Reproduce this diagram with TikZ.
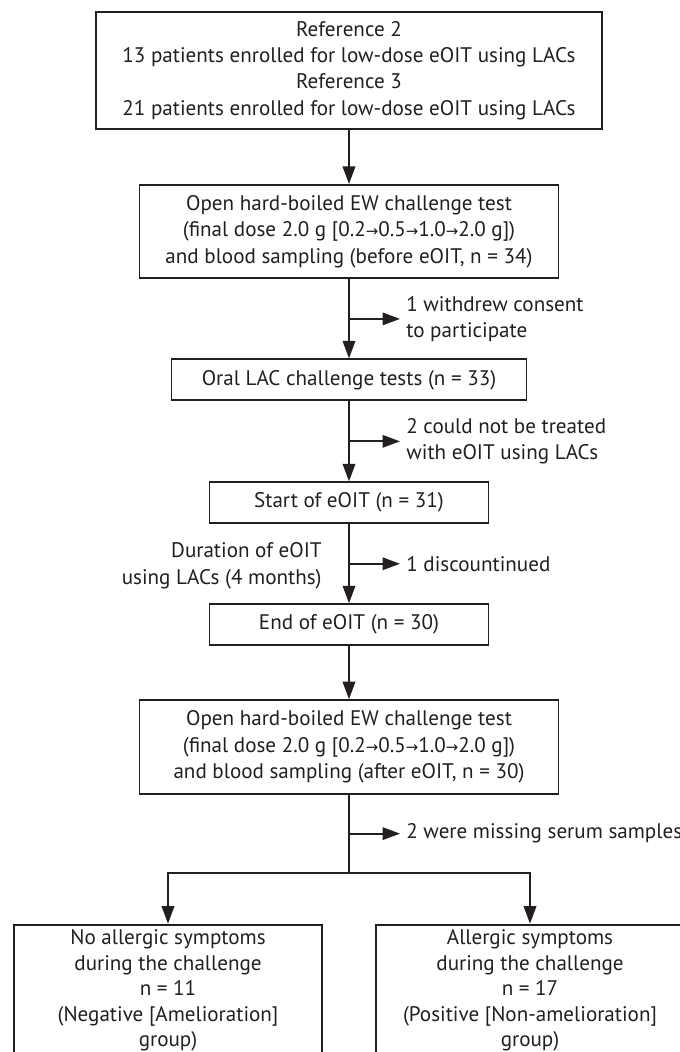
\documentclass[tikz,border=0pt]{standalone}
\usepackage{fontspec}
\setsansfont{PT Sans}
\newfontfamily\symfont{DejaVu Sans}
\usetikzlibrary{arrows.meta,positioning,calc}
\definecolor{ink}{HTML}{231F20}
\newcommand{\nxt}{{\symfont\fontsize{8.5}{8.5}\selectfont →}}
\tikzset{
  box/.style={
    draw=ink,text=ink,line width=1.1pt,
    align=center,inner sep=1mm,
    font=\sffamily\fontsize{12}{15}\selectfont
  },
  bigbox/.style={box,minimum width=101.2mm,minimum height=23.4mm},
  stepbox/.style={box,minimum width=83.8mm,minimum height=18.7mm},
  smallbox/.style={box,minimum height=8.2mm},
  groupbox/.style={box,minimum width=61.6mm,
    font=\sffamily\fontsize{12}{14.5}\selectfont},
  note/.style={
    text=ink,align=left,inner sep=1.2mm,
    font=\sffamily\fontsize{12}{15}\selectfont
  },
  arrow/.style={-{Triangle[length=3.5mm,width=2.5mm]},draw=ink,line width=1.1pt},
  line/.style={draw=ink,line width=1.1pt}
}
\begin{document}
\begin{tikzpicture}
\path[use as bounding box,clip] (0,0) rectangle (136mm,-210.4mm);

\node[bigbox] (refs) at (69.8mm,-14.1mm)
{Reference 2\\13 patients enrolled for low-dose eOIT using LACs\\
Reference 3\\21 patients enrolled for low-dose eOIT using LACs};
\node[stepbox,below=10.8mm of refs] (before)
{Open hard-boiled EW challenge test\\
(final dose 2.0 g [0.2\nxt0.5\nxt1.0\nxt2.0 g])\\
and blood sampling (before eOIT, n = 34)};
\node[smallbox,minimum width=71mm,below=15.8mm of before] (oral)
{Oral LAC challenge tests (n = 33)};
\node[smallbox,minimum width=55.8mm,below=16mm of oral] (start)
{Start of eOIT (n = 31)};
\node[smallbox,minimum width=55.8mm,below=15.8mm of start] (finish)
{End of eOIT (n = 30)};
\node[stepbox,below=10.6mm of finish] (after)
{Open hard-boiled EW challenge test\\
(final dose 2.0 g [0.2\nxt0.5\nxt1.0\nxt2.0 g])\\
and blood sampling (after eOIT, n = 30)};

\coordinate[below=15.6mm of after] (split);
% the two group boxes run past the lower edge
\node[groupbox,below=10.2mm of split,xshift=-36.2mm] (neg)
{No allergic symptoms\\during the challenge\\n = 11\\
(Negative [Amelioration]\\group)\\ \mbox{}};
\node[groupbox,below=10.2mm of split,xshift=36.2mm] (pos)
{Allergic symptoms\\during the challenge\\n = 17\\
(Positive [Non-amelioration]\\group)\\ \mbox{}};

% side exits
\coordinate (m1) at ($(before.south)!0.5!(oral.north)$);
\coordinate (m2) at ($(oral.south)!0.5!(start.north)$);
\coordinate (m3) at ($(start.south)!0.5!(finish.north)$);
\coordinate (m4) at ($(after.south)!0.5!(split)$);
\node[note,right=10.2mm of m1] (withdrew) {1 withdrew consent\\to participate};
\node[note,right=10.2mm of m2] (untreated) {2 could not be treated\\with eOIT using LACs};
\node[note,right=10.2mm of m3] (stopped) {1 discountinued};
\node[note,align=right,left=4.2mm of m3,yshift=-0.4mm] (duration)
{Duration of eOIT\\using LACs (4 months)};
\node[note,right=10.2mm of m4] (missing) {2 were missing serum samples};

\draw[arrow] (refs) -- (before);
\draw[arrow] (before) -- (oral);
\draw[arrow] (oral) -- (start);
\draw[arrow] (start) -- (finish);
\draw[arrow] (finish) -- (after);
\draw[arrow] (m1) -- (withdrew.west);
\draw[arrow] (m2) -- (untreated.west);
\draw[arrow] (m3) -- (stopped.west);
\draw[arrow] (m4) -- (missing.west);
\draw[line] (after) -- (split);
\draw[arrow] (split) -| (neg);
\draw[arrow] (split) -| (pos);
\end{tikzpicture}
\end{document}
